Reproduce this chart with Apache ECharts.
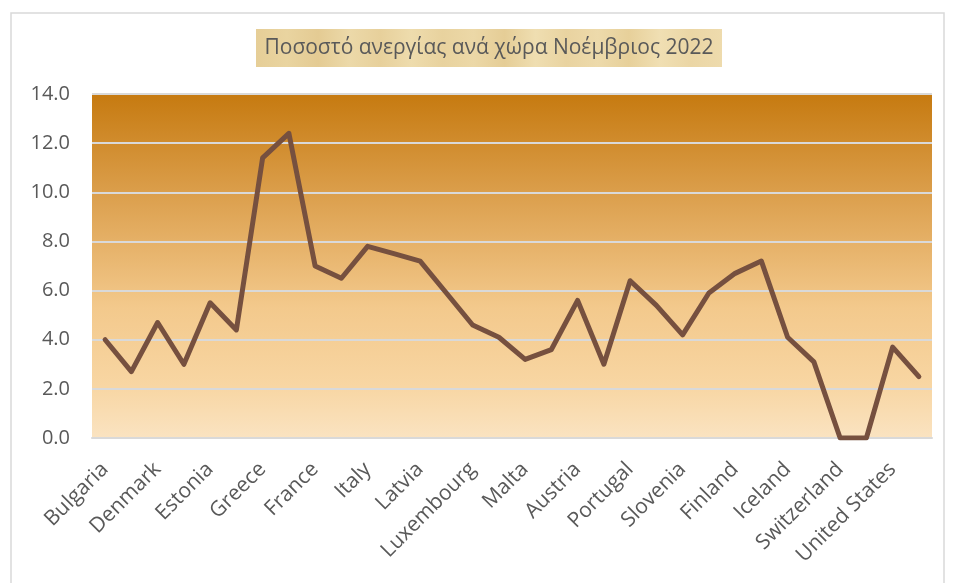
<!DOCTYPE html>
<html>
<head>
<meta charset="utf-8">
<script src="https://cdn.jsdelivr.net/npm/echarts@6/dist/echarts.min.js"></script>
<style>
  html, body { margin: 0; padding: 0; background: #ffffff; }
  #chart { width: 955px; height: 583px; }
</style>
</head>
<body>
<div id="chart"></div>
<script>
// Unemployment rate by country, November 2022 (%)
const countries = [
  'Bulgaria', 'Czechia', 'Denmark', 'Germany', 'Estonia', 'Ireland', 'Greece', 'Spain',
  'France', 'Croatia', 'Italy', 'Cyprus', 'Latvia', 'Lithuania', 'Luxembourg', 'Hungary',
  'Malta', 'Netherlands', 'Austria', 'Poland', 'Portugal', 'Romania', 'Slovenia', 'Slovakia',
  'Finland', 'Sweden', 'Iceland', 'Norway', 'Switzerland', 'Türkiye', 'United States', 'Japan'
];
const unemploymentRate = [
  4.0, 2.7, 4.7, 3.0, 5.5, 4.4, 11.4, 12.4,
  7.0, 6.5, 7.8, 7.5, 7.2, 5.9, 4.6, 4.1,
  3.2, 3.6, 5.6, 3.0, 6.4, 5.4, 4.2, 5.9,
  6.7, 7.2, 4.1, 3.1, 0.0, 0.0, 3.7, 2.5
];
const yTicks = { min: 0, max: 14, interval: 2 };
const titleText = 'Ποσοστό ανεργίας ανά χώρα Νοέμβριος 2022';

const chart = echarts.init(document.getElementById('chart'), null, { renderer: 'canvas' });

const plotFill = new echarts.graphic.LinearGradient(0, 0, 0, 1, [
  { offset: 0, color: '#c67a10' },
  { offset: 0.3, color: '#dca04e' },
  { offset: 0.62, color: '#f3c98c' },
  { offset: 0.85, color: '#f8d6a3' },
  { offset: 1, color: '#fae3c1' }
]);

// papyrus-like streaks behind the title
const shades = ['#e6ce97', '#e9d4a0', '#e4cb93', '#ecd9a9', '#e7d09b', '#eedcad', '#e8d29e', '#ecd8a7',
                '#e5cd96', '#efdeb1', '#e9d3a0', '#eddaab', '#e7d09a', '#f0dfb3', '#ebd6a5', '#eedbad'];
const papyrusStops = shades.map((c, i) => ({ offset: i / (shades.length - 1), color: c }));
const papyrusFill = new echarts.graphic.LinearGradient(0, 0, 1, 0, papyrusStops);

chart.setOption({
  backgroundColor: '#ffffff',
  animation: false,
  grid: {
    left: 92, right: 23, top: 94, bottom: 145,
    show: true,
    borderWidth: 0,
    backgroundColor: plotFill
  },
  graphic: [
    {
      type: 'rect', z: -10, silent: true,
      shape: { x: 11, y: 13, width: 933, height: 620 },
      style: { fill: 'none', stroke: '#d9d9d9', lineWidth: 1.5 }
    },
    {
      type: 'rect', z: 1, silent: true,
      shape: { x: 256, y: 29, width: 466, height: 38 },
      style: { fill: papyrusFill }
    },
    {
      type: 'text', z: 2, silent: true,
      x: 489, y: 48,
      style: {
        text: titleText, align: 'center', verticalAlign: 'middle',
        fill: '#595959', font: '21px "Open Sans", sans-serif'
      }
    }
  ],
  xAxis: {
    type: 'category',
    data: countries,
    boundaryGap: true,
    axisLine: { show: true, lineStyle: { color: '#d9d9d9', width: 2 } },
    axisTick: { show: false },
    axisLabel: {
      interval: 1,
      rotate: 45,
      margin: 28,
      align: 'right',
      verticalAlign: 'middle',
      color: '#595959',
      fontFamily: 'Open Sans',
      fontSize: 21
    },
    splitLine: { show: false }
  },
  yAxis: {
    type: 'value',
    min: yTicks.min, max: yTicks.max, interval: yTicks.interval,
    axisLine: { show: false },
    axisTick: { show: false },
    axisLabel: {
      margin: 22,
      color: '#595959',
      fontFamily: 'Open Sans',
      fontSize: 20,
      formatter: v => v.toFixed(1)
    },
    splitLine: { show: true, lineStyle: { color: '#d9d9d9', width: 2 } }
  },
  series: [{
    type: 'line',
    data: unemploymentRate,
    showSymbol: false,
    symbol: 'none',
    lineStyle: { color: '#76503f', width: 5, cap: 'round', join: 'round' }
  }]
});
</script>
</body>
</html>
